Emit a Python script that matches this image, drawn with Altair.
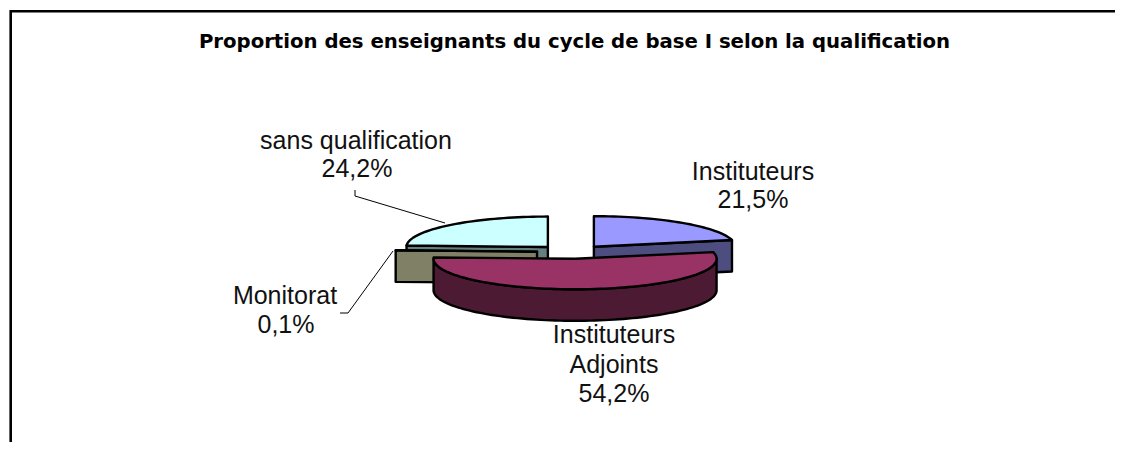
import math
import altair as alt

title_text = "Proportion des enseignants du cycle de base I selon la qualification"
categories = ["Instituteurs", "Instituteurs Adjoints", "Monitorat", "sans qualification"]
shares = [21.5, 54.2, 0.1, 24.2]
top_colors = ["#9999FF", "#993366", "#FFFFCC", "#CCFFFF"]
side_colors = ["#4D4D80", "#4D1A33", "#808066", "#668080"]
draw_order = [3, 0, 2, 1]

W, H = 1107, 434
OX, OY = 8, 8
CX, CY, A, B, DEPTH = 572 - OX, 252 - OY, 141.5, 30.5, 31.5
EX, EY = 35, 6.8


def rim(cx, cy, deg):
    r = math.radians(deg)
    return [round(cx + A * math.sin(r), 2), round(cy - B * math.cos(r), 2)]


def feat(coords, fill, name):
    ring = coords + [coords[0]]
    return {"type": "Feature", "properties": {"fill": fill, "name": name},
            "geometry": {"type": "Polygon", "coordinates": [ring]}}


def arc_pts(cx, cy, a0, a1):
    n = max(2, int((a1 - a0) / 2))
    return [rim(cx, cy, a0 + (a1 - a0) * k / n) for k in range(n + 1)]


spans = []
acc = 0.0
for s in shares:
    spans.append((acc * 3.6, (acc + s) * 3.6))
    acc += s

features = []
for i in draw_order:
    a0, a1 = spans[i]
    mid = math.radians((a0 + a1) / 2)
    cx = CX + EX * math.sin(mid)
    cy = CY - EY * math.cos(mid)
    arc = arc_pts(cx, cy, a0, a1)
    name = categories[i]
    apex = [round(cx, 2), round(cy, 2)]
    down = lambda p: [p[0], round(p[1] + DEPTH, 2)]
    # cut faces that look towards the viewer
    if i == 0:
        features.append(feat([apex, arc[-1], down(arc[-1]), down(apex)], side_colors[i], name))
    if i in (2, 3):
        features.append(feat([apex, arc[0], down(arc[0]), down(apex)], side_colors[i], name))
    # outer wall: only the part of the rim on the viewer's side
    v0, v1 = max(a0, 90), min(a1, 270)
    if v1 > v0:
        wall = arc_pts(cx, cy, v0, v1)
        features.append(feat(wall + [down(p) for p in reversed(wall)], side_colors[i], name))
    # top surface
    features.append(feat([apex] + arc, top_colors[i], name))

pies = alt.Chart(alt.Data(values=features)).mark_geoshape(
    stroke="black", strokeWidth=2.4, strokeJoin="round"
).encode(fill=alt.Fill("properties.fill:N", scale=None)).project(
    type="identity", scale=1, translate=[0, 0]
)

x_scale = alt.Scale(domain=[0, W], range=[0, W])
y_scale = alt.Scale(domain=[0, H], range=[0, H])
X = alt.X("x:Q", scale=x_scale, axis=None)
Y = alt.Y("y:Q", scale=y_scale, axis=None)

frame_x = [W, 2.7, 2.7]
frame_y = [3.3, 3.3, H]
frame = alt.Chart(alt.Data(values=[
    {"x": a, "y": b, "o": k} for k, (a, b) in enumerate(zip(frame_x, frame_y))
])).mark_line(color="black", strokeWidth=2.6, clip=True).encode(x=X, y=Y, order="o:Q")

leaders = [
    [(355, 190), (355, 196), (445, 223)],
    [(340, 313), (348, 313), (393, 251)],
]
leader_rows = [
    {"x": p[0] - OX, "y": p[1] - OY, "g": g, "o": k}
    for g, line in enumerate(leaders) for k, p in enumerate(line)
]
leader = alt.Chart(alt.Data(values=leader_rows)).mark_line(
    color="black", strokeWidth=1
).encode(x=X, y=Y, detail="g:N", order="o:Q")

label_lines = [
    ("Instituteurs", 753, 180), ("21,5%", 753, 208),
    ("Instituteurs", 614, 343), ("Adjoints", 614, 373), ("54,2%", 614, 402),
    ("Monitorat", 285, 304), ("0,1%", 286, 333),
    ("sans qualification", 356, 149), ("24,2%", 357, 177),
]
labels = alt.Chart(alt.Data(values=[
    {"t": t, "x": a - OX, "y": b - OY} for t, a, b in label_lines
])).mark_text(
    font="Liberation Sans", fontSize=25, color="#111111", baseline="alphabetic", align="center"
).encode(x=X, y=Y, text="t:N")

title = alt.Chart(alt.Data(values=[{"t": title_text, "x": 574.5 - OX, "y": 48 - OY}])).mark_text(
    font="DejaVu Sans", fontSize=19.7, fontWeight="bold", color="black",
    baseline="alphabetic", align="center"
).encode(x=X, y=Y, text="t:N")

chart = alt.layer(frame, pies, leader, labels, title).properties(
    width=W, height=H, padding=0
).configure_view(stroke=None)

chart.save("out.html", embed_options={"renderer": "svg", "actions": False})
